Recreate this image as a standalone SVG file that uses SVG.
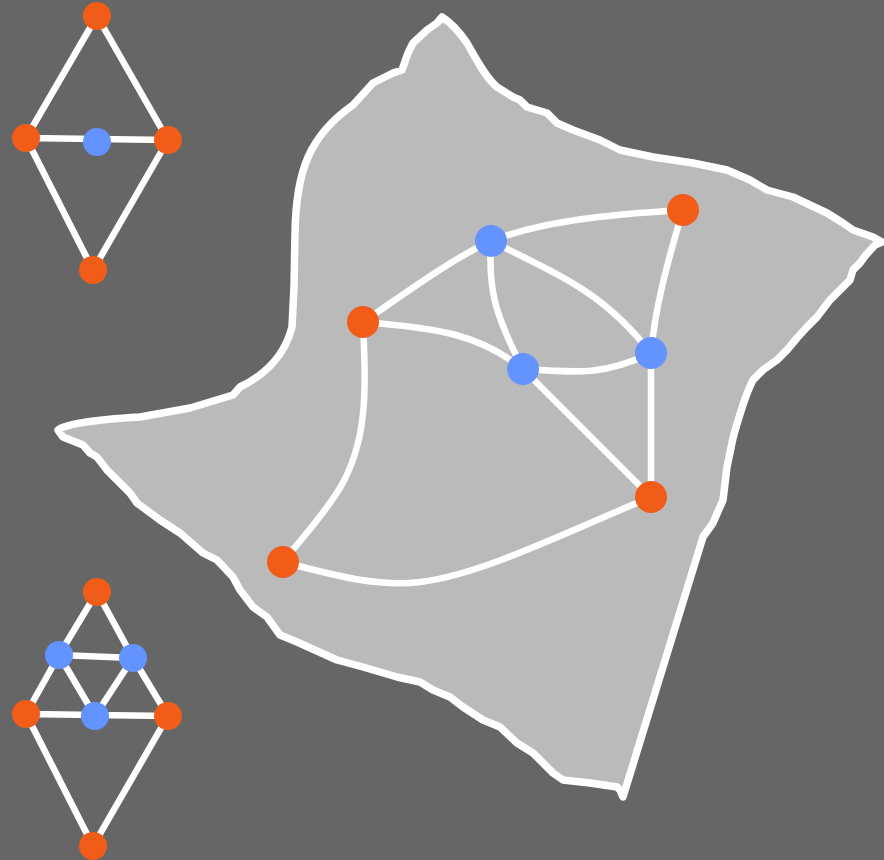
<svg xmlns="http://www.w3.org/2000/svg" width="884" height="860" viewBox="0 0 884 860">
<style>
.edge{fill:none;stroke:#ffffff;stroke-width:6.5;stroke-linecap:round}
.or{fill:#f25c19}
.bl{fill:#6393ff}
.blob{fill:#bababa;stroke:#ffffff;stroke-width:7.5;stroke-linejoin:round}
</style>
<rect width="884" height="860" fill="#666666"/>
<path class="blob" d="M442,17 C450,22 458,30 467,43 C475,57 485,77 497,87 L513,97 L520,100 L527,107 L547,113 L557,123 L573,130 L600,140 L620,150 L653,157 L693,163 L727,170 L750,180 L767,190 L793,197 L827,213 L843,223 L853,230 L873,237 L882,242 L875,245 L865,256 L860,263 L853,270 L850,280 L840,290 L830,300 L817,317 L807,327 L797,338 L787,350 L777,360 L763,370 L753,380 C745,395 738,420 733,438 L727,467 L723,500 L713,523 L703,537 L623,797 L620,790 L617,787 L590,783 L563,780 L553,773 L533,753 L517,743 L500,727 L483,720 L463,707 L450,697 L433,690 L420,682 L397,677 L363,667 L337,660 L297,642 L280,635 L267,617 L253,607 L240,590 L233,577 L217,560 L203,553 L180,533 L160,520 L137,503 L130,493 L120,483 L107,470 L97,457 L90,453 L83,445 L63,437 L58,430 C65,424 90,420 140,417 L190,408 L233,395 L240,387 C265,375 285,355 292,327 L294,287 L295,233 C296,170 310,135 353,105 L373,83 L393,73 L402,70 L408,53 L413,43 L427,30 L437,23 Z"/>
<g id="connectors">
<path class="edge" d="M97,16 L26,138 M97,16 L168,140 M26,138 L168,140 M26,138 L93,270 M168,140 L93,270"/>
<path class="edge" d="M97,592 L59,655 M97,592 L133,658 M59,655 L133,658 M59,655 L26,714 M133,658 L168,716 M59,655 L95,716 M133,658 L95,716 M26,714 L168,716 M26,714 L93,846 M168,716 L93,846"/>
<path class="edge" d="M363,322 C410,290 450,260 491,241"/>
<path class="edge" d="M491,241 C540,222 600,215 683,210"/>
<path class="edge" d="M491,241 C488,290 495,315 523,369"/>
<path class="edge" d="M491,241 C570,280 605,295 651,353"/>
<path class="edge" d="M683,210 C665,270 655,310 651,353"/>
<path class="edge" d="M363,322 C440,328 480,335 523,369"/>
<path class="edge" d="M523,369 C580,373 605,375 651,353"/>
<path class="edge" d="M523,369 L651,497"/>
<path class="edge" d="M651,353 L651,497"/>
<path class="edge" d="M283,562 C340,577 380,587 420,582 C480,575 560,535 651,497"/>
<path class="edge" d="M363,322 C366,390 368,440 340,488 C320,520 300,540 283,562"/>
</g>
<g id="s1-top"><circle class="or" cx="97" cy="16" r="14"/></g>
<g id="s1-left"><circle class="or" cx="26" cy="138" r="14"/></g>
<g id="s1-center"><circle class="bl" cx="97" cy="142" r="14"/></g>
<g id="s1-right"><circle class="or" cx="168" cy="140" r="14"/></g>
<g id="s1-bottom"><circle class="or" cx="93" cy="270" r="14"/></g>
<g id="s2-top"><circle class="or" cx="97" cy="592" r="14"/></g>
<g id="s2-bl"><circle class="bl" cx="59" cy="655" r="14"/></g>
<g id="s2-br"><circle class="bl" cx="133" cy="658" r="14"/></g>
<g id="s2-bc"><circle class="bl" cx="95" cy="716" r="14"/></g>
<g id="s2-left"><circle class="or" cx="26" cy="714" r="14"/></g>
<g id="s2-right"><circle class="or" cx="168" cy="716" r="14"/></g>
<g id="s2-bottom"><circle class="or" cx="93" cy="846" r="14"/></g>
<g id="nA"><circle class="or" cx="363" cy="322" r="16"/></g>
<g id="nB"><circle class="bl" cx="491" cy="241" r="16"/></g>
<g id="nC"><circle class="or" cx="683" cy="210" r="16"/></g>
<g id="nD"><circle class="bl" cx="523" cy="369" r="16"/></g>
<g id="nE"><circle class="bl" cx="651" cy="353" r="16"/></g>
<g id="nF"><circle class="or" cx="651" cy="497" r="16"/></g>
<g id="nG"><circle class="or" cx="283" cy="562" r="16"/></g>
</svg>
